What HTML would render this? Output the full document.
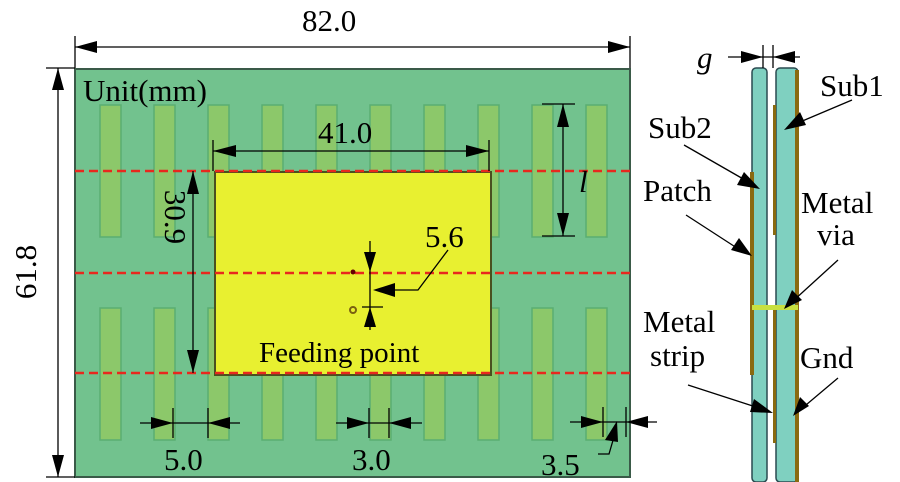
<!DOCTYPE html>
<html><head><meta charset="utf-8"><style>
html,body{margin:0;padding:0;background:#fff;}
svg{display:block;}
svg text{font-family:"Liberation Serif","DejaVu Serif",serif;fill:#000;}
</style></head><body>
<svg width="900" height="482" viewBox="0 0 900 482" xmlns="http://www.w3.org/2000/svg" font-family="Liberation Serif, serif">
<!-- board -->
<rect x="75" y="69" width="555" height="408" fill="#72c28e" stroke="#3a5a48" stroke-width="2"/>
<g fill="#8cc86a" stroke="#5aae72" stroke-width="1.5">
<rect x="100" y="105" width="21" height="132"/><rect x="154" y="105" width="21" height="132"/><rect x="208" y="105" width="21" height="132"/><rect x="262" y="105" width="21" height="132"/><rect x="316" y="105" width="21" height="132"/><rect x="370" y="105" width="21" height="132"/><rect x="424" y="105" width="21" height="132"/><rect x="478" y="105" width="21" height="132"/><rect x="532" y="105" width="21" height="132"/><rect x="586" y="105" width="21" height="132"/>
<rect x="100" y="308" width="21" height="132"/><rect x="154" y="308" width="21" height="132"/><rect x="208" y="308" width="21" height="132"/><rect x="262" y="308" width="21" height="132"/><rect x="316" y="308" width="21" height="132"/><rect x="370" y="308" width="21" height="132"/><rect x="424" y="308" width="21" height="132"/><rect x="478" y="308" width="21" height="132"/><rect x="532" y="308" width="21" height="132"/><rect x="586" y="308" width="21" height="132"/>
</g>
<rect x="215" y="172" width="276" height="203" fill="#e8f030" stroke="#4a5020" stroke-width="2"/>
<g stroke="#e8281e" stroke-width="2.5" stroke-dasharray="9,5">
<line x1="75" y1="171" x2="630" y2="171"/><line x1="75" y1="273" x2="630" y2="273"/><line x1="75" y1="373" x2="630" y2="373"/>
</g>
<circle cx="353" cy="272" r="2.5" fill="#600"/>
<circle cx="353" cy="310" r="3" fill="none" stroke="#7a6010" stroke-width="2"/>
<g stroke="#000" stroke-width="1.3" fill="none">
<line x1="75" y1="36" x2="75" y2="68"/><line x1="630" y1="36" x2="630" y2="68"/><line x1="75" y1="47" x2="630" y2="47"/>
<line x1="46" y1="68" x2="75" y2="68"/><line x1="46" y1="477" x2="75" y2="477"/><line x1="58" y1="68" x2="58" y2="477"/>
<line x1="213" y1="140" x2="213" y2="171"/><line x1="489" y1="140" x2="489" y2="171"/><line x1="213" y1="151" x2="489" y2="151"/>
<line x1="193" y1="171" x2="193" y2="373"/>
<line x1="542" y1="104" x2="575" y2="104"/><line x1="542" y1="236" x2="575" y2="236"/><line x1="563" y1="104" x2="563" y2="236"/>
<line x1="370" y1="241" x2="370" y2="330"/><line x1="362" y1="307" x2="383" y2="307"/>
<polyline points="390,290 418,290 448,250"/>
<line x1="140" y1="423" x2="240" y2="423"/><line x1="173" y1="408" x2="173" y2="438"/><line x1="208" y1="408" x2="208" y2="438"/>
<line x1="336" y1="423" x2="422" y2="423"/><line x1="369" y1="408" x2="369" y2="438"/><line x1="389" y1="408" x2="389" y2="438"/>
<line x1="570" y1="422" x2="657" y2="422"/><line x1="603" y1="407" x2="603" y2="437"/><line x1="626" y1="407" x2="626" y2="437"/>
<polyline points="616,430 609,454 598,454"/>
</g>
<g fill="#000">
<polygon points="75,47 97,41 97,53"/><polygon points="630,47 608,41 608,53"/>
<polygon points="58,68 52,90 64,90"/><polygon points="58,477 52,455 64,455"/>
<polygon points="213,151 236,145 236,157"/><polygon points="489,151 466,145 466,157"/>
<polygon points="193,171 187,194 199,194"/><polygon points="193,373 187,350 199,350"/>
<polygon points="563,104 557,127 569,127"/><polygon points="563,236 557,213 569,213"/>
<polygon points="370,272 364,252 376,252"/><polygon points="370,307 364,327 376,327"/>
<polygon points="373,290 395,283 395,297"/>
<polygon points="173,423 151,417 151,429"/><polygon points="208,423 230,417 230,429"/>
<polygon points="369,423 347,417 347,429"/><polygon points="389,423 411,417 411,429"/>
<polygon points="603,422 581,416 581,428"/><polygon points="626,422 648,416 648,428"/>
<polygon points="617,421 605,440 618,442"/>
</g>
<g font-size="31" font-family="Liberation Serif, serif">
<text x="302" y="31">82.0</text>
<text x="83" y="101">Unit(mm)</text>
<text x="318" y="143">41.0</text>
<text x="425" y="247">5.6</text>
<text x="579" y="192" font-style="italic">l</text>
<text x="259" y="362" font-size="29">Feeding point</text>
<text x="164" y="470">5.0</text>
<text x="352" y="470">3.0</text>
<text x="541" y="475">3.5</text>
<text transform="translate(165,217) rotate(90)" text-anchor="middle">30.9</text>
<text transform="translate(36,272) rotate(-90)" text-anchor="middle">61.8</text>
</g>
<!-- side view -->
<rect x="752" y="68" width="15" height="414" rx="4" fill="#7fd0c0" stroke="#2a4a50" stroke-width="1.5"/>
<rect x="776" y="68" width="22" height="414" rx="4" fill="#7fd0c0" stroke="#2a4a50" stroke-width="1.5"/>
<rect x="795" y="70" width="4" height="412" fill="#8a6a10"/>
<rect x="750" y="172" width="4" height="203" fill="#8a6a10"/>
<rect x="773" y="105" width="3" height="130" fill="#8a6a10"/>
<rect x="773" y="308" width="3" height="135" fill="#8a6a10"/>
<rect x="752" y="305" width="46" height="5" fill="#c8e040"/>
<g stroke="#000" stroke-width="1.3" fill="none">
<line x1="728" y1="57" x2="800" y2="57"/><line x1="763" y1="45" x2="763" y2="68"/><line x1="773" y1="45" x2="773" y2="68"/>
<line x1="852" y1="100" x2="800" y2="122"/>
<line x1="684" y1="145" x2="745" y2="180"/>
<line x1="686" y1="215" x2="740" y2="250"/>
<line x1="838" y1="260" x2="793" y2="301"/>
<line x1="688" y1="385" x2="765" y2="410"/>
<line x1="838" y1="378" x2="800" y2="410"/>
</g>
<g fill="#000">
<polygon points="763,57 741,51 741,63"/><polygon points="773,57 795,51 795,63"/>
<polygon points="784,130 800,112 806,125"/>
<polygon points="760,189 737,185 744,172"/>
<polygon points="752,256 731,250 739,238"/>
<polygon points="784,309 792,290 802,300"/>
<polygon points="773,413 750,412 754,399"/>
<polygon points="793,416 800,397 809,406"/>
</g>
<g font-size="31" font-family="Liberation Serif, serif">
<text x="697" y="68" font-style="italic">g</text>
<text x="820" y="96">Sub1</text>
<text x="648" y="138">Sub2</text>
<text x="643" y="201">Patch</text>
<text x="801" y="213">Metal</text>
<text x="817" y="245">via</text>
<text x="643" y="332">Metal</text>
<text x="650" y="366">strip</text>
<text x="800" y="368">Gnd</text>
</g>
</svg>
</body></html>
